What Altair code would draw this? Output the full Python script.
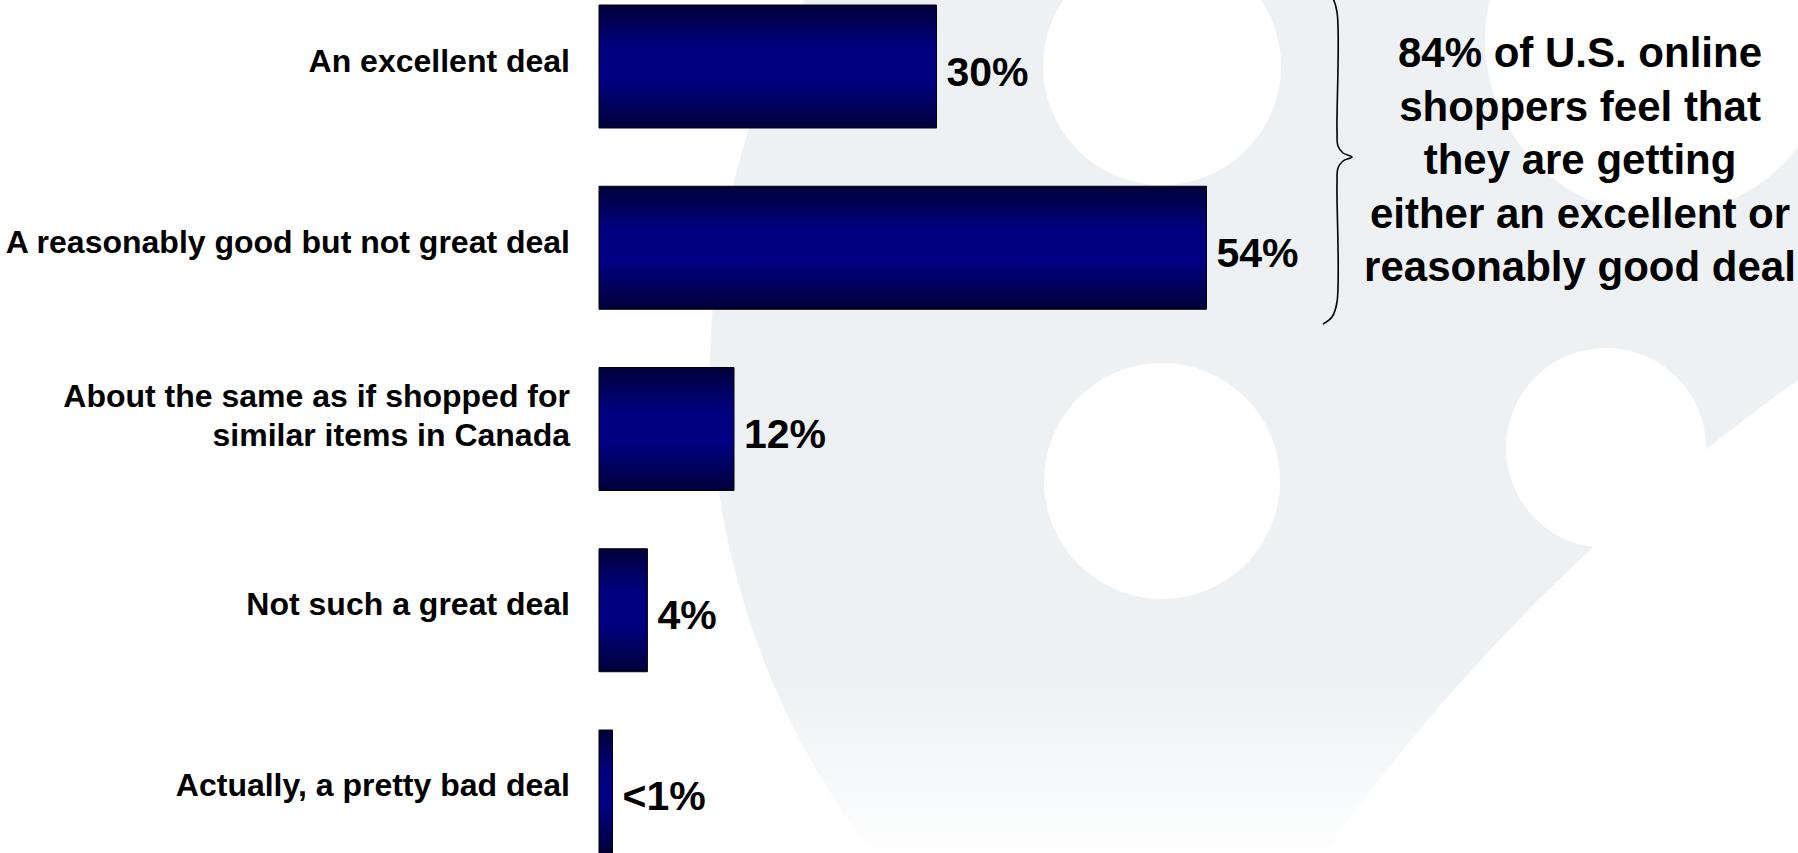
import altair as alt
import pandas as pd

# ---------------- data ----------------
categories = [
    "An excellent deal",
    "A reasonably good but not great deal",
    "About the same as if shopped for\nsimilar items in Canada",
    "Not such a great deal",
    "Actually, a pretty bad deal",
]
values = [30, 54, 12, 4.3, 1.2]
value_labels = ["30%", "54%", "12%", "4%", "<1%"]

note_lines = [
    "84% of U.S. online",
    "shoppers feel that",
    "they are getting",
    "either an excellent or",
    "reasonably good deal",
]

# brace outline (page pixels)
brace_x = [1323, 1332, 1337, 1337, 1338, 1343, 1352, 1343, 1338, 1337, 1337, 1332, 1323]
brace_y = [-10, -3, 12, 130, 146, 153, 157, 161, 168, 184, 302, 317, 324]

# faint watermark discs (page pixels): centre x, centre y, radius, colour
wm_cx = [1500, 2972, 1162, 1162, 1606, 1660]
wm_cy = [374, 2030, 66, 481, 448, 40]
wm_r = [790, 2025, 119, 118, 100, 175]
wm_col = ["#eef1f4", "#ffffff", "#ffffff", "#ffffff", "#ffffff", "#ffffff"]

# bottom fade of the watermark (page pixels)
fade_x = [599, 1798]
fade_y = [680, 853]

# ---------------- layout ----------------
LEFT = 599
W = 1798 - LEFT
H = 853
FONT = "Liberation Sans, Arial, sans-serif"

bars_df = pd.DataFrame({"cat": categories, "val": values, "lab": value_labels})
bars_df["lines"] = [c.count("\n") + 1 for c in categories]
brace_df = pd.DataFrame({"x": brace_x, "y": brace_y, "i": list(range(len(brace_x)))})
wm_df = pd.DataFrame({"x": wm_cx, "y": wm_cy, "size": [4 * r * r for r in wm_r],
                      "c": wm_col, "k": list(range(len(wm_cx)))})
fade_df = pd.DataFrame({"x": [fade_x[0]], "x2": [fade_x[1]], "y": [fade_y[0]], "y2": [fade_y[1]]})
note_df = pd.DataFrame({"t": ["\n".join(note_lines)], "x": [1580], "y": [54]})

px_x = alt.Scale(domain=[LEFT, 1798], range=[0, W], nice=False, zero=False)
px_y = alt.Scale(domain=[0, H], range=[0, H], nice=False, zero=False)

watermark = alt.Chart(wm_df).mark_circle(opacity=1, strokeWidth=0).encode(
    x=alt.X("x:Q", scale=px_x, axis=None),
    y=alt.Y("y:Q", scale=px_y, axis=None),
    size=alt.Size("size:Q", scale=None, legend=None),
    color=alt.Color("c:N", scale=None, legend=None),
    order=alt.Order("k:Q", sort="ascending"),
)

fade_grad = alt.Gradient(
    gradient="linear", x1=0, x2=0, y1=0, y2=1,
    stops=[
        alt.GradientStop(color="rgba(255,255,255,0)", offset=0),
        alt.GradientStop(color="rgba(255,255,255,0.95)", offset=1),
    ],
)
fade = alt.Chart(fade_df).mark_rect(fill=fade_grad, strokeWidth=0).encode(
    x=alt.X("x:Q", scale=px_x, axis=None),
    x2="x2:Q",
    y=alt.Y("y:Q", scale=px_y, axis=None),
    y2="y2:Q",
)

brace = alt.Chart(brace_df).mark_line(
    color="black", strokeWidth=1.6, interpolate="catmull-rom", clip=False
).encode(
    x=alt.X("x:Q", scale=px_x, axis=None),
    y=alt.Y("y:Q", scale=px_y, axis=None),
    order="i:Q",
)

note = alt.Chart(note_df).mark_text(
    font=FONT, fontWeight="bold", fontSize=42, lineHeight=53.5,
    align="center", baseline="middle", lineBreak="\n", color="black",
).encode(
    x=alt.X("x:Q", scale=px_x, axis=None),
    y=alt.Y("y:Q", scale=px_y, axis=None),
    text="t:N",
)

gradient = alt.Gradient(
    gradient="linear", x1=0, x2=0, y1=0, y2=1,
    stops=[
        alt.GradientStop(color="#00003a", offset=0),
        alt.GradientStop(color="#000080", offset=0.35),
        alt.GradientStop(color="#000084", offset=0.6),
        alt.GradientStop(color="#00003a", offset=1),
    ],
)

yenc = alt.Y(
    "cat:N", sort=categories, title=None,
    scale=alt.Scale(range=[0, 858], paddingInner=0.3214, paddingOuter=0.0276),
    axis=None,
)
xscale = alt.Scale(domain=[0, W / 11.25], nice=False, zero=True)

bars = alt.Chart(bars_df).mark_bar(
    fill=gradient, stroke="black", strokeWidth=1
).encode(
    x=alt.X("val:Q", scale=xscale, axis=None),
    y=yenc,
)

vlabels = alt.Chart(bars_df).mark_text(
    font=FONT, fontWeight="bold", fontSize=41, align="left",
    baseline="middle", dx=10, dy=7, color="black",
).encode(
    x=alt.X("val:Q", scale=xscale, axis=None),
    y=yenc,
    text="lab:N",
)

cat_style = dict(font=FONT, fontWeight="bold", fontSize=32, lineHeight=39,
                 align="right", baseline="middle", lineBreak="\n", dx=-29,
                 color="black")

cat_single = alt.Chart(bars_df).transform_filter("datum.lines == 1").mark_text(
    dy=-5, **cat_style
).encode(x=alt.datum(0), y=yenc, text="cat:N")

cat_multi = alt.Chart(bars_df).transform_filter("datum.lines == 2").mark_text(
    dy=-32, **cat_style
).encode(x=alt.datum(0), y=yenc, text="cat:N")

deco = alt.layer(watermark, fade, brace, note)
main = alt.layer(bars, vlabels, cat_single, cat_multi)

chart = alt.layer(deco, main).resolve_scale(x="independent", y="independent").properties(
    width=W, height=H,
    padding={"left": LEFT, "top": 0, "right": 0, "bottom": 0},
    autosize=alt.AutoSizeParams(type="none"),
    background="white",
).configure_view(stroke=None)

chart.save("out.html", embed_options={"renderer": "svg", "actions": False})
